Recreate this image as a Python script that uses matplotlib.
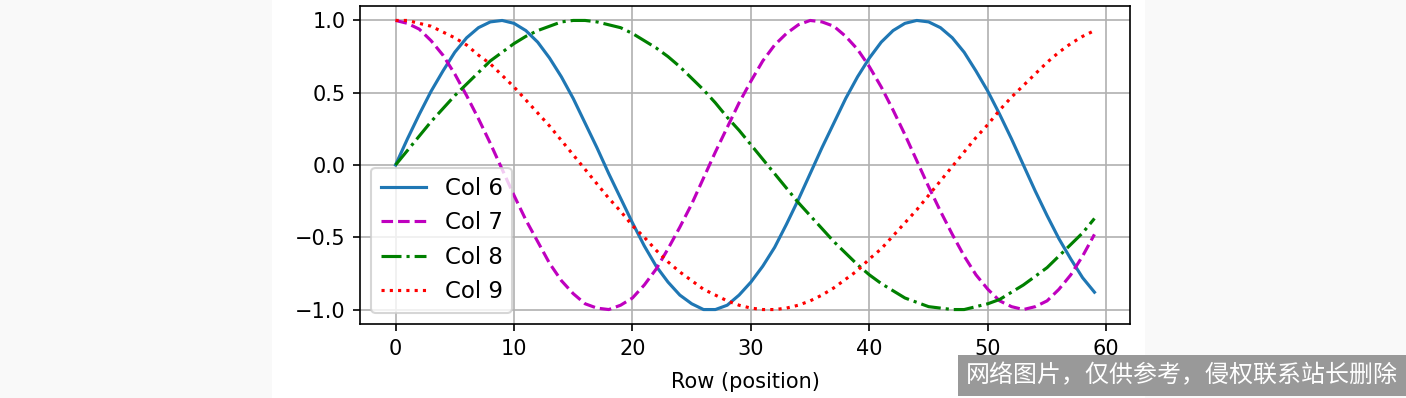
import numpy as np
import matplotlib.pyplot as plt
from matplotlib.patches import Rectangle

plt.rcParams['font.family'] = ['DejaVu Sans', 'Noto Sans CJK SC']

rows = np.arange(60)
col6 = [0.00, 0.18, 0.35, 0.51, 0.65, 0.78, 0.88, 0.95, 0.99, 1.00,
        0.98, 0.93, 0.85, 0.74, 0.61, 0.46, 0.29, 0.12, -0.06, -0.23,
        -0.40, -0.56, -0.70, -0.81, -0.90, -0.96, -1.00, -1.00, -0.97, -0.90,
        -0.81, -0.70, -0.57, -0.41, -0.24, -0.06, 0.12, 0.29, 0.46, 0.61,
        0.74, 0.85, 0.93, 0.98, 1.00, 0.99, 0.95, 0.88, 0.78, 0.65,
        0.51, 0.35, 0.18, 0.00, -0.18, -0.35, -0.51, -0.65, -0.78, -0.88]
col7 = [1.00, 0.98, 0.94, 0.86, 0.76, 0.63, 0.48, 0.32, 0.15, -0.03,
        -0.21, -0.38, -0.53, -0.68, -0.80, -0.89, -0.96, -0.99, -1.00, -0.97,
        -0.92, -0.83, -0.72, -0.58, -0.43, -0.27, -0.09, 0.09, 0.26, 0.43,
        0.58, 0.72, 0.83, 0.91, 0.97, 1.00, 0.99, 0.96, 0.89, 0.80,
        0.68, 0.54, 0.38, 0.21, 0.03, -0.15, -0.32, -0.48, -0.63, -0.76,
        -0.86, -0.94, -0.98, -1.00, -0.98, -0.94, -0.86, -0.76, -0.63, -0.48]
col8 = [0.00, 0.10, 0.20, 0.30, 0.39, 0.48, 0.56, 0.64, 0.72, 0.78,
        0.84, 0.89, 0.93, 0.96, 0.99, 1.00, 1.00, 0.99, 0.97, 0.95,
        0.91, 0.86, 0.81, 0.75, 0.68, 0.60, 0.52, 0.43, 0.33, 0.24,
        0.14, 0.04, -0.06, -0.16, -0.26, -0.35, -0.44, -0.53, -0.61, -0.69,
        -0.76, -0.82, -0.87, -0.92, -0.95, -0.98, -0.99, -1.00, -1.00, -0.98,
        -0.96, -0.93, -0.88, -0.83, -0.77, -0.71, -0.63, -0.55, -0.47, -0.37]
col9 = [1.00, 1.00, 0.98, 0.96, 0.92, 0.88, 0.83, 0.76, 0.70, 0.62,
        0.54, 0.45, 0.36, 0.27, 0.17, 0.07, -0.03, -0.13, -0.23, -0.32,
        -0.42, -0.50, -0.59, -0.67, -0.74, -0.80, -0.86, -0.90, -0.94, -0.97,
        -0.99, -1.00, -1.00, -0.99, -0.97, -0.94, -0.90, -0.85, -0.79, -0.73,
        -0.65, -0.58, -0.49, -0.40, -0.31, -0.21, -0.11, -0.01, 0.09, 0.19,
        0.28, 0.38, 0.47, 0.55, 0.63, 0.71, 0.78, 0.84, 0.89, 0.93]
labels = ['Col 6', 'Col 7', 'Col 8', 'Col 9']

W, H, DPI = 1406, 398, 150
fig = plt.figure(figsize=(W / DPI, H / DPI), dpi=DPI, facecolor='#f9f9f9')
# white area of the original chart, light grey page around it
fig.patches.append(Rectangle((272 / W, 0), (1145 - 272) / W, 1,
                             transform=fig.transFigure, facecolor='white',
                             edgecolor='none', zorder=-10))
ax = fig.add_axes([360 / W, 1 - 324 / H, (1130 - 360) / W, (324 - 6) / H])
ax.set_zorder(1)

ax.plot(rows, col6, '-', label=labels[0])
ax.plot(rows, col7, 'm--', label=labels[1])
ax.plot(rows, col8, 'g-.', label=labels[2])
ax.plot(rows, col9, 'r:', label=labels[3])

ax.set_xlim(-3, 62)
ax.set_ylim(-1.1, 1.1)
ax.set_xticks([0, 10, 20, 30, 40, 50, 60])
ax.set_yticks([-1.0, -0.5, 0.0, 0.5, 1.0])
ax.grid(True)
ax.set_xlabel('Row (position)', labelpad=6.5)
ax.legend(loc='lower left', fontsize=11)

fig.text(1398 / W, 1 - 375.5 / H, '网络图片，仅供参考，侵权联系站长删除',
         ha='right', va='center', color='white', fontsize=11.5,
         family=['Noto Sans CJK SC'], zorder=5,
         bbox=dict(facecolor='#999999', edgecolor='none', pad=4))

fig.savefig('out.png', dpi=DPI, facecolor=fig.get_facecolor())
